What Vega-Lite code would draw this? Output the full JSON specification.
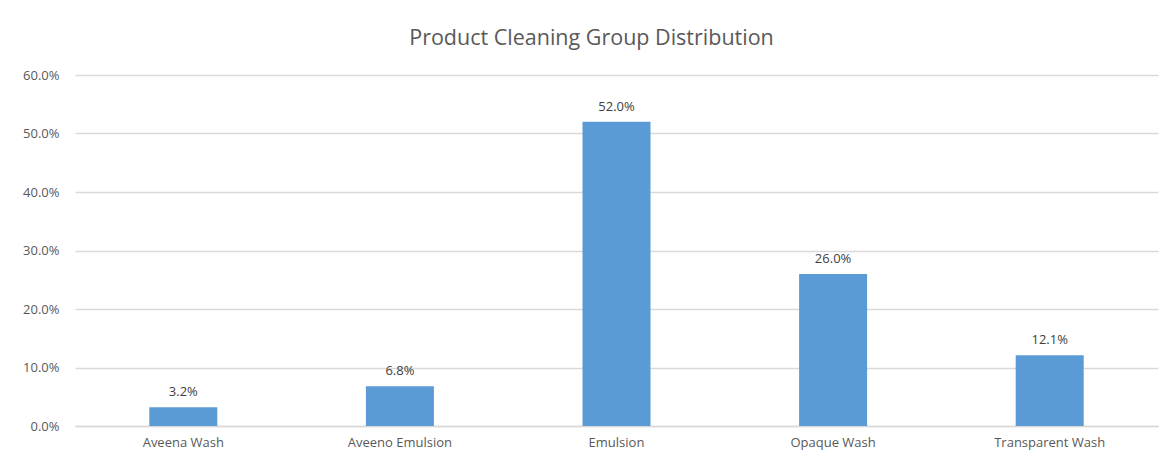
{
  "$schema": "https://vega.github.io/schema/vega-lite/v6.json",
  "width": 1083,
  "height": 351,
  "autosize": {"type": "none"},
  "padding": {"left": 75, "top": 75, "right": 10, "bottom": 35},
  "background": "white",
  "title": {
    "text": "Product Cleaning Group Distribution",
    "font": "Open Sans",
    "fontSize": 21.5,
    "fontWeight": "normal",
    "color": "#595959",
    "anchor": "middle",
    "dx": -25,
    "offset": 20
  },
  "data": {
    "values": [
      {"group": "Aveena Wash", "share": 0.032},
      {"group": "Aveeno Emulsion", "share": 0.068},
      {"group": "Emulsion", "share": 0.52},
      {"group": "Opaque Wash", "share": 0.26},
      {"group": "Transparent Wash", "share": 0.121}
    ]
  },
  "encoding": {
    "x": {
      "field": "group",
      "type": "nominal",
      "sort": null,
      "scale": {"paddingInner": 0.686, "paddingOuter": 0.343},
      "axis": {
        "title": null,
        "labelAngle": 0,
        "labelFont": "Open Sans",
        "labelFontSize": 13,
        "labelColor": "#595959",
        "labelPadding": 10,
        "ticks": false,
        "domainColor": "#d9d9d9",
        "domainWidth": 1.5
      }
    },
    "y": {
      "field": "share",
      "type": "quantitative",
      "scale": {"domain": [0, 0.6], "nice": false},
      "axis": {
        "title": null,
        "format": ".1%",
        "values": [0, 0.1, 0.2, 0.3, 0.4, 0.5, 0.6],
        "labelFont": "Open Sans",
        "labelFontSize": 13,
        "labelColor": "#595959",
        "labelPadding": 16,
        "ticks": false,
        "domain": false,
        "gridColor": "#d9d9d9",
        "gridWidth": 1.5
      }
    }
  },
  "layer": [
    {"mark": {"type": "bar", "color": "#5B9BD5"}},
    {
      "mark": {
        "type": "text",
        "baseline": "bottom",
        "dy": -8,
        "font": "Open Sans",
        "fontSize": 13,
        "color": "#404040"
      },
      "encoding": {"text": {"field": "share", "type": "quantitative", "format": ".1%"}}
    }
  ],
  "config": {"view": {"stroke": null}}
}
